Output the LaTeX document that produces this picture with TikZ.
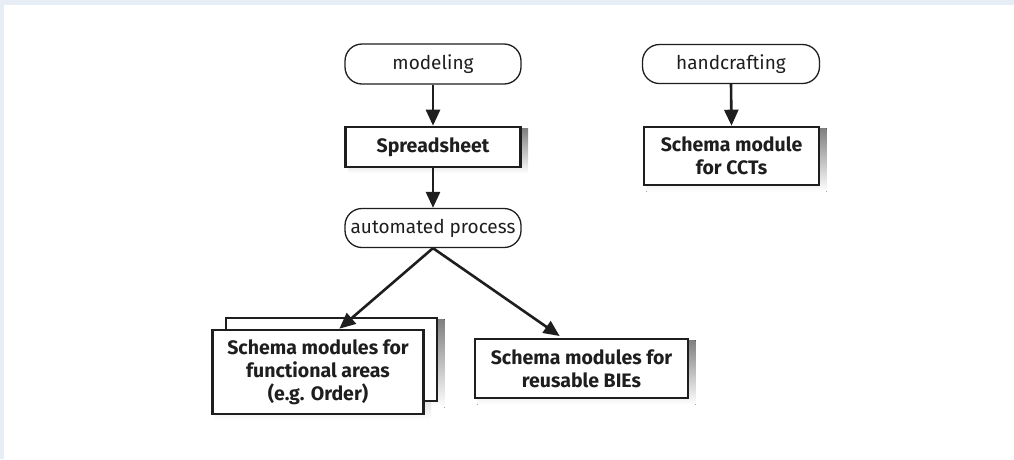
\documentclass[tikz,border=0pt]{standalone}
\usepackage{fontspec}
\setmainfont{Fira Sans}
\usetikzlibrary{arrows.meta,calc,backgrounds}
\definecolor{framebg}{HTML}{E6EDF5}
\definecolor{ink}{HTML}{1E1E1E}
\definecolor{shade}{HTML}{9C9C9C}
% flat grey drop shadow behind a framed node
\newcommand\castshadow[1]{%
  \fill[shade] ($(#1.north west)+(3.7,2.7)$) rectangle ($(#1.south east)+(6.3,5.3)$);}
\begin{document}
\begin{tikzpicture}[x=1pt,y=-1pt,
  pill/.style={draw=ink, line width=1.3pt, rounded corners=17pt, fill=white,
    minimum width=176pt, minimum height=40pt, inner sep=0pt,
    font=\fontsize{19}{23}\selectfont, text=ink},
  boxnode/.style={draw=ink, line width=2.6pt, fill=white, inner sep=0pt,
    align=center, font=\bfseries\fontsize{19.5}{23}\selectfont, text=ink},
  arr/.style={draw=ink, line width=2.6pt, -{Triangle[length=16pt,width=14pt]}}
]
\useasboundingbox (0,0) rectangle (1014,459);

% panel with its tinted top and left edge
\begin{scope}[on background layer]
  \fill[framebg] (0,0) rectangle (1014,459);
  \fill[white] (4,5) rectangle (1014,459);
\end{scope}

% left column
\node[pill] (model) at (433,64) {modeling};
\node[boxnode, minimum width=175pt, minimum height=40pt] (sheet) at (433,147) {Spreadsheet};
\node[pill, minimum height=39pt] (auto) at (433,228) {automated process};

% right column
\node[pill, minimum width=177pt, minimum height=39pt] (hand) at (731,64) {handcrafting};
\node[boxnode, minimum width=175pt, minimum height=58pt] (cct) at (731.5,156) {Schema module\\for CCTs};

% generated schema modules
\node[boxnode, minimum width=211pt, minimum height=83pt] (funcback) at (331.5,359.5) {};
\begin{scope}[on background layer]
  \castshadow{funcback}
\end{scope}
\node[boxnode, minimum width=211pt, minimum height=84pt] (func) at (318,372)
  {Schema modules for\\functional areas\\(e.g. Order)};
\node[boxnode, minimum width=213pt, minimum height=59pt] (bie) at (581.5,368.5)
  {Schema modules for\\reusable BIEs};

% connectors
\draw[arr] (model.south) -- (sheet.north);
\draw[arr] (sheet.south) -- (auto.north);
\draw[arr] (hand.south) -- (cct.north);
\draw[arr] (auto.south) -- ($(func.north west)!0.6!(func.north east)$);
\draw[arr, shorten >=3pt] (auto.south) -- ($(bie.north west)!0.41!(bie.north east)$);

% box shadows
\begin{scope}[on background layer]
  \castshadow{sheet}
  \castshadow{cct}
  \castshadow{func}
  \castshadow{bie}
\end{scope}
\end{tikzpicture}
\end{document}
